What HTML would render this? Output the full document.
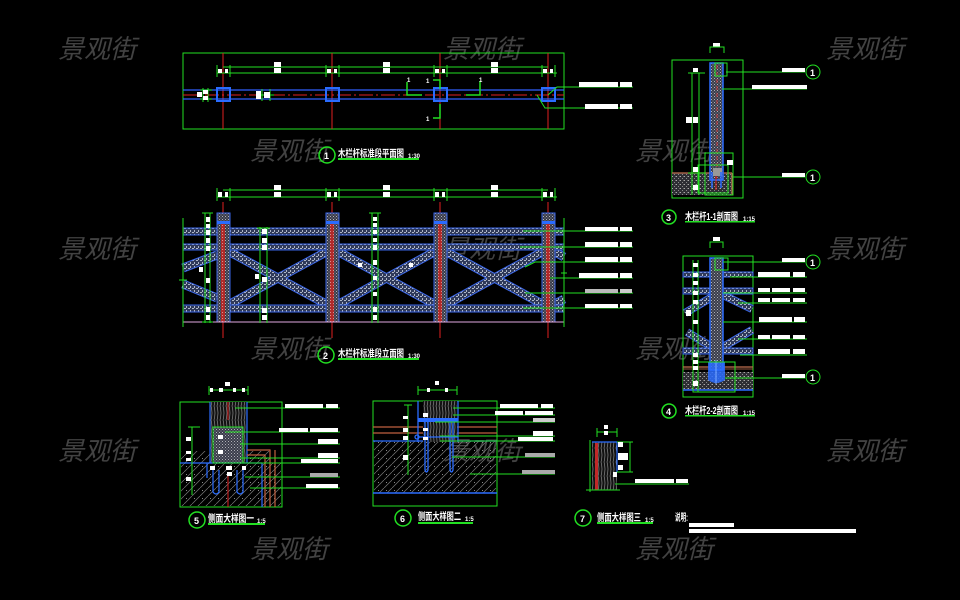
<!DOCTYPE html>
<html><head><meta charset="utf-8">
<style>
html,body{margin:0;padding:0;background:#000;overflow:hidden}
svg{display:block}
.wm{font-family:"Liberation Sans","Noto Sans CJK SC",sans-serif;font-size:26px;font-style:italic;fill:#424242}
.t{font-family:"Liberation Sans","Noto Sans CJK SC",sans-serif;font-size:10px;font-weight:bold;fill:#fff}
.s{font-family:"Liberation Sans",sans-serif;font-size:6px;font-weight:bold;fill:#fff}
.n{font-family:"Liberation Sans",sans-serif;font-size:9px;font-weight:bold;fill:#fff}
</style></head><body>
<svg width="960" height="600" viewBox="0 0 960 600" xmlns="http://www.w3.org/2000/svg">
<defs>
<pattern id="rail" width="4" height="4" patternUnits="userSpaceOnUse"><rect width="4" height="4" fill="#303a5a"/><rect width="2" height="1" fill="#aeb6c8"/><rect x="2" y="2" width="1" height="2" fill="#aeb6c8"/></pattern>
<pattern id="post" width="3" height="3" patternUnits="userSpaceOnUse"><rect width="3" height="3" fill="#3a3d4a"/><rect width="1" height="1" fill="#b0b0b8"/><rect x="1.5" y="1.5" width="1" height="1" fill="#9090a0"/></pattern>
<pattern id="redp" width="3" height="3" patternUnits="userSpaceOnUse"><rect width="3" height="3" fill="#b02a2a"/><rect width="1" height="1" fill="#d89090"/></pattern>
<pattern id="conc" width="4" height="4" patternUnits="userSpaceOnUse"><rect width="4" height="4" fill="#2e2e34"/><rect width="1" height="1" fill="#aaa"/><rect x="2" y="2" width="1" height="1" fill="#888"/><rect x="3" y="0" width="1" height="1" fill="#666"/></pattern>
<pattern id="hatch" width="8" height="8" patternUnits="userSpaceOnUse"><path d="M0 8 L8 0" stroke="#777" stroke-width="0.7"/><rect x="2" y="2" width="1" height="1" fill="#888"/></pattern>
<pattern id="wood" width="6" height="14" patternUnits="userSpaceOnUse"><rect width="6" height="14" fill="#121212"/><path d="M1 0 Q3 7 1 14 M4 0 Q6 7 4 14" stroke="#9a9a9a" stroke-width="0.6" fill="none"/></pattern>
</defs>
<rect width="960" height="600" fill="#000"/>

<!-- watermarks -->
<g class="wm">
<text x="58" y="58">景观街</text><text x="443" y="58">景观街</text><text x="826" y="58">景观街</text>
<text x="250" y="160">景观街</text><text x="635" y="160">景观街</text>
<text x="58" y="258">景观街</text><text x="443" y="258">景观街</text><text x="826" y="258">景观街</text>
<text x="250" y="358">景观街</text><text x="635" y="358">景观街</text>
<text x="58" y="460">景观街</text><text x="443" y="460">景观街</text><text x="826" y="460">景观街</text>
<text x="250" y="558">景观街</text><text x="635" y="558">景观街</text>
</g>

<!-- ============ DRAWING 1 : PLAN ============ -->
<g>
<rect x="183" y="53" width="381" height="76" fill="none" stroke="#22e022" stroke-width="1"/>
<g stroke="#e02020" stroke-width="1">
<line x1="223" y1="53" x2="223" y2="129"/><line x1="332" y1="53" x2="332" y2="129"/>
<line x1="440" y1="53" x2="440" y2="129"/><line x1="548" y1="53" x2="548" y2="129"/>
</g>
<g stroke="#22e022" stroke-width="1">
<line x1="217" y1="73" x2="557" y2="73"/><line x1="223" y1="67" x2="548" y2="67"/>
<line x1="217" y1="65" x2="217" y2="77"/><line x1="230" y1="65" x2="230" y2="77"/>
<line x1="326" y1="65" x2="326" y2="77"/><line x1="339" y1="65" x2="339" y2="77"/>
<line x1="434" y1="65" x2="434" y2="77"/><line x1="447" y1="65" x2="447" y2="77"/>
<line x1="542" y1="65" x2="542" y2="77"/><line x1="555" y1="65" x2="555" y2="77"/>
</g>
<g fill="#fff">
<rect x="274" y="62" width="7" height="5"/><rect x="274" y="68" width="7" height="5"/>
<rect x="383" y="62" width="7" height="5"/><rect x="383" y="68" width="7" height="5"/>
<rect x="491" y="62" width="7" height="5"/><rect x="491" y="68" width="7" height="5"/>
<rect x="218" y="69" width="4" height="4"/><rect x="225" y="69" width="3" height="4"/>
<rect x="327" y="69" width="4" height="4"/><rect x="334" y="69" width="3" height="4"/>
<rect x="435" y="69" width="4" height="4"/><rect x="442" y="69" width="3" height="4"/>
<rect x="543" y="69" width="4" height="4"/><rect x="550" y="69" width="3" height="4"/>
</g>
<line x1="183" y1="90" x2="564" y2="90" stroke="#3060ff" stroke-width="1.2"/>
<line x1="183" y1="99" x2="564" y2="99" stroke="#3060ff" stroke-width="1.2"/>
<line x1="183" y1="95" x2="564" y2="95" stroke="#e02020" stroke-width="1" stroke-dasharray="14 3 2 3"/>
<g fill="none" stroke="#2a6cff" stroke-width="2">
<rect x="217" y="88" width="13" height="13"/><rect x="326" y="88" width="13" height="13"/>
<rect x="434" y="88" width="13" height="13"/><rect x="542" y="88" width="13" height="13"/>
</g>
<g stroke="#22e022" stroke-width="1" fill="none">
<line x1="203" y1="88" x2="203" y2="102"/><line x1="208" y1="88" x2="208" y2="102"/>
<line x1="200" y1="90" x2="212" y2="90"/><line x1="200" y1="99" x2="212" y2="99"/>
<line x1="262" y1="89" x2="262" y2="101"/><line x1="270" y1="89" x2="270" y2="101"/>
<line x1="258" y1="95" x2="274" y2="95"/>
</g>
<g fill="#fff">
<rect x="197" y="92" width="5" height="5"/><rect x="203" y="90" width="5" height="4"/><rect x="203" y="96" width="5" height="4"/>
<rect x="256" y="91" width="5" height="8"/><rect x="264" y="92" width="6" height="6"/>
</g>
<g stroke="#22e022" stroke-width="1.5" fill="none">
<polyline points="407,82 407,95 422,95"/>
<polyline points="466,95 480,95 480,81"/>
<polyline points="433,80 440,80 440,89"/>
<polyline points="440,104 440,118 433,118"/>
</g>
<g class="s"><text x="407" y="82">1</text><text x="479" y="82">1</text><text x="426" y="83">1</text><text x="426" y="121">1</text></g>
<g stroke="#22e022" stroke-width="1" fill="none">
<polyline points="548,95 557,87 633,87"/>
<polyline points="537,95 545,108 633,108"/>
</g>
<g fill="#fff">
<rect x="579" y="82" width="39" height="5"/><rect x="620" y="82" width="12" height="5"/>
<rect x="585" y="104" width="33" height="5"/><rect x="620" y="104" width="12" height="5"/>
</g>
<circle cx="327" cy="155" r="8" fill="none" stroke="#22e022" stroke-width="1.5"/>
<text class="n" x="324" y="159">1</text>
<text class="t" x="338" y="157" textLength="66" lengthAdjust="spacingAndGlyphs">木栏杆标准段平面图</text>
<text class="s" x="408" y="158">1:30</text>
<rect x="338" y="158" width="81" height="2" fill="#22e022"/>
</g>

<!-- ============ DRAWING 2 : ELEVATION ============ -->
<g>
<g stroke="#22e022" stroke-width="1">
<line x1="217" y1="197" x2="557" y2="197"/><line x1="223" y1="190" x2="548" y2="190"/>
<line x1="217" y1="188" x2="217" y2="201"/><line x1="230" y1="188" x2="230" y2="201"/>
<line x1="326" y1="188" x2="326" y2="201"/><line x1="339" y1="188" x2="339" y2="201"/>
<line x1="434" y1="188" x2="434" y2="201"/><line x1="447" y1="188" x2="447" y2="201"/>
<line x1="542" y1="188" x2="542" y2="201"/><line x1="555" y1="188" x2="555" y2="201"/>
</g>
<g fill="#fff">
<rect x="274" y="185" width="7" height="5"/><rect x="274" y="192" width="7" height="5"/>
<rect x="383" y="185" width="7" height="5"/><rect x="383" y="192" width="7" height="5"/>
<rect x="491" y="185" width="7" height="5"/><rect x="491" y="192" width="7" height="5"/>
<rect x="218" y="192" width="4" height="5"/><rect x="225" y="192" width="3" height="5"/>
<rect x="327" y="192" width="4" height="5"/><rect x="334" y="192" width="3" height="5"/>
<rect x="435" y="192" width="4" height="5"/><rect x="442" y="192" width="3" height="5"/>
<rect x="543" y="192" width="4" height="5"/><rect x="550" y="192" width="3" height="5"/>
</g>
<g stroke="#e02020" stroke-width="1">
<line x1="223" y1="202" x2="223" y2="338"/><line x1="332" y1="202" x2="332" y2="338"/>
<line x1="440" y1="202" x2="440" y2="338"/><line x1="548" y1="202" x2="548" y2="338"/>
</g>
<g stroke="#3a66e8" stroke-width="9" fill="none" stroke-linecap="butt">
<line x1="230" y1="252" x2="326" y2="304"/><line x1="230" y1="304" x2="326" y2="252"/>
<line x1="339" y1="252" x2="434" y2="304"/><line x1="339" y1="304" x2="434" y2="252"/>
<line x1="447" y1="252" x2="542" y2="304"/><line x1="447" y1="304" x2="542" y2="252"/>
<line x1="183" y1="268" x2="217" y2="255"/><line x1="183" y1="284" x2="217" y2="298"/>
<line x1="555" y1="252" x2="564" y2="257"/><line x1="555" y1="304" x2="564" y2="299"/>
</g>
<g stroke="url(#rail)" stroke-width="7" fill="none">
<line x1="230" y1="252" x2="326" y2="304"/><line x1="230" y1="304" x2="326" y2="252"/>
<line x1="339" y1="252" x2="434" y2="304"/><line x1="339" y1="304" x2="434" y2="252"/>
<line x1="447" y1="252" x2="542" y2="304"/><line x1="447" y1="304" x2="542" y2="252"/>
<line x1="183" y1="268" x2="217" y2="255"/><line x1="183" y1="284" x2="217" y2="298"/>
<line x1="555" y1="252" x2="564" y2="257"/><line x1="555" y1="304" x2="564" y2="299"/>
</g>
<g fill="url(#rail)" stroke="#3a66e8" stroke-width="1">
<rect x="183" y="228" width="381" height="7"/>
<rect x="183" y="244" width="381" height="6"/>
<rect x="183" y="305" width="381" height="7"/>
</g>
<g>
<rect x="217" y="213" width="13" height="109" fill="url(#post)" stroke="#3a66e8" stroke-width="1"/>
<rect x="326" y="213" width="13" height="109" fill="url(#post)" stroke="#3a66e8" stroke-width="1"/>
<rect x="434" y="213" width="13" height="109" fill="url(#post)" stroke="#3a66e8" stroke-width="1"/>
<rect x="542" y="213" width="13" height="109" fill="url(#post)" stroke="#3a66e8" stroke-width="1"/>
</g>
<g fill="url(#redp)">
<rect x="221" y="222" width="4" height="100"/><rect x="330" y="222" width="4" height="100"/>
<rect x="438" y="222" width="4" height="100"/><rect x="546" y="222" width="4" height="100"/>
</g>
<g fill="#2a6cff">
<rect x="217" y="221" width="13" height="3"/><rect x="326" y="221" width="13" height="3"/>
<rect x="434" y="221" width="13" height="3"/><rect x="542" y="221" width="13" height="3"/>
</g>
<line x1="183" y1="322" x2="564" y2="322" stroke="#e0a8e0" stroke-width="1"/>
<g stroke="#22e022" stroke-width="1" fill="none">
<line x1="183" y1="218" x2="183" y2="327"/><line x1="179" y1="280" x2="187" y2="280"/>
<line x1="205" y1="213" x2="205" y2="323"/><line x1="210" y1="213" x2="210" y2="323"/>
<line x1="260" y1="227" x2="260" y2="323"/><line x1="267" y1="227" x2="267" y2="323"/>
<line x1="372" y1="213" x2="372" y2="323"/><line x1="378" y1="213" x2="378" y2="323"/>
<line x1="564" y1="218" x2="564" y2="327"/><line x1="561" y1="273" x2="567" y2="273"/>
<line x1="202" y1="213" x2="213" y2="213"/><line x1="202" y1="322" x2="213" y2="322"/>
<line x1="257" y1="228" x2="270" y2="228"/><line x1="369" y1="213" x2="381" y2="213"/>
</g>
<g fill="#fff">
<rect x="206" y="217" width="4" height="5"/><rect x="206" y="224" width="4" height="4"/><rect x="206" y="230" width="4" height="5"/>
<rect x="206" y="238" width="4" height="5"/><rect x="206" y="246" width="4" height="5"/><rect x="206" y="278" width="4" height="5"/>
<rect x="206" y="307" width="4" height="5"/><rect x="206" y="315" width="4" height="5"/><rect x="199" y="267" width="4" height="5"/>
<rect x="262" y="229" width="5" height="5"/><rect x="262" y="238" width="5" height="5"/><rect x="262" y="245" width="5" height="5"/>
<rect x="262" y="277" width="5" height="5"/><rect x="262" y="308" width="5" height="5"/><rect x="262" y="315" width="5" height="5"/>
<rect x="255" y="274" width="4" height="5"/>
<rect x="373" y="217" width="4" height="4"/><rect x="373" y="223" width="4" height="4"/><rect x="373" y="230" width="4" height="4"/>
<rect x="373" y="238" width="4" height="4"/><rect x="373" y="245" width="4" height="5"/><rect x="373" y="260" width="4" height="5"/>
<rect x="373" y="276" width="4" height="4"/><rect x="373" y="292" width="4" height="4"/><rect x="373" y="307" width="4" height="5"/>
<rect x="373" y="315" width="4" height="5"/>
<rect x="358" y="263" width="4" height="4"/><rect x="409" y="263" width="4" height="4"/>
</g>
<g stroke="#22e022" stroke-width="1" fill="none">
<line x1="523" y1="231" x2="633" y2="231"/>
<line x1="520" y1="247" x2="633" y2="247"/>
<polyline points="525,267 535,262 633,262"/>
<polyline points="550,278 633,278"/>
<polyline points="525,293 633,293"/>
<line x1="523" y1="308" x2="633" y2="308"/>
</g>
<g fill="#fff">
<rect x="585" y="227" width="33" height="4"/><rect x="620" y="227" width="12" height="4"/>
<rect x="585" y="242" width="33" height="5"/><rect x="620" y="242" width="12" height="5"/>
<rect x="585" y="257" width="33" height="5"/><rect x="620" y="257" width="12" height="5"/>
<rect x="579" y="273" width="39" height="5"/><rect x="620" y="273" width="12" height="5"/>
<rect x="585" y="304" width="33" height="4"/><rect x="620" y="304" width="12" height="4"/>
</g>
<rect x="585" y="289" width="33" height="4" fill="#bbb"/><rect x="620" y="289" width="12" height="4" fill="#ccc"/>
<circle cx="326" cy="355" r="8" fill="none" stroke="#22e022" stroke-width="1.5"/>
<text class="n" x="323" y="359">2</text>
<text class="t" x="338" y="357" textLength="66" lengthAdjust="spacingAndGlyphs">木栏杆标准段立面图</text>
<text class="s" x="408" y="358">1:30</text>
<rect x="338" y="358" width="81" height="2" fill="#22e022"/>
</g>

<!-- ============ DRAWING 3 : 1-1 SECTION ============ -->
<g>
<rect x="672" y="60" width="71" height="138" fill="none" stroke="#22e022" stroke-width="1"/>
<rect x="713" y="43" width="7" height="4" fill="#fff"/>
<polyline points="710,53 710,47 724,47 724,53" fill="none" stroke="#22e022"/>
<rect x="672" y="173" width="60" height="22" fill="url(#conc)"/>
<line x1="672" y1="173" x2="732" y2="173" stroke="#c07050" stroke-width="1.2"/>
<line x1="732" y1="173" x2="732" y2="195" stroke="#c07050" stroke-width="1.2"/>
<rect x="710" y="63" width="13" height="117" fill="url(#post)" stroke="#2a6cff" stroke-width="1.5"/>
<line x1="717" y1="65" x2="717" y2="178" stroke="#c03030" stroke-width="1" stroke-dasharray="4 3"/>
<rect x="713" y="168" width="9" height="8" fill="#999"/>
<g stroke="#2a6cff" stroke-width="1.5" fill="none">
<path d="M712 172 L712 188 M721 172 L721 188"/>
</g>
<line x1="716" y1="176" x2="716" y2="190" stroke="#e02020"/>
<g stroke="#22e022" stroke-width="1" fill="none">
<rect x="715" y="63" width="12" height="13"/>
<rect x="705" y="153" width="28" height="42"/>
<rect x="698" y="165" width="30" height="28"/>
<line x1="692" y1="73" x2="692" y2="195"/><line x1="699" y1="73" x2="699" y2="195"/>
<line x1="688" y1="73" x2="705" y2="73"/><line x1="688" y1="173" x2="705" y2="173"/>
<polyline points="726,72 805,72"/>
<polyline points="722,89 807,89"/>
<polyline points="733,177 805,177"/>
<circle cx="813" cy="72" r="7"/><circle cx="813" cy="177" r="7"/>
</g>
<g fill="#fff">
<rect x="686" y="117" width="6" height="6"/><rect x="693" y="117" width="5" height="6"/>
<rect x="693" y="68" width="5" height="4"/><rect x="693" y="167" width="5" height="5"/><rect x="693" y="185" width="5" height="5"/>
<rect x="727" y="160" width="6" height="5"/>
<rect x="782" y="68" width="23" height="4"/><rect x="752" y="85" width="55" height="4"/><rect x="782" y="173" width="23" height="4"/>
</g>
<text class="n" x="810" y="76">1</text><text class="n" x="810" y="181">1</text>
<circle cx="669" cy="217" r="7" fill="none" stroke="#22e022" stroke-width="1.5"/>
<text class="n" x="666" y="221">3</text>
<text class="t" x="685" y="220" textLength="53" lengthAdjust="spacingAndGlyphs">木栏杆1-1剖面图</text>
<text class="s" x="743" y="221">1:15</text>
<rect x="685" y="221" width="70" height="1.5" fill="#22e022"/>
</g>

<!-- ============ DRAWING 4 : 2-2 SECTION ============ -->
<g>
<rect x="683" y="256" width="70" height="141" fill="none" stroke="#22e022" stroke-width="1"/>
<rect x="713" y="237" width="7" height="4" fill="#fff"/>
<polyline points="710,248 710,242 723,242 723,248" fill="none" stroke="#22e022"/>
<rect x="683" y="372" width="70" height="18" fill="url(#conc)"/>
<line x1="683" y1="367" x2="753" y2="367" stroke="#c07050" stroke-width="1.2"/>
<line x1="683" y1="369" x2="753" y2="369" stroke="#c07050" stroke-width="0.8"/>
<line x1="683" y1="390" x2="753" y2="390" stroke="#2a6cff" stroke-width="1.5"/>
<g stroke="#3a66e8" stroke-width="8" fill="none">
<line x1="685" y1="313" x2="712" y2="297"/><line x1="723" y1="295" x2="752" y2="309"/>
<line x1="687" y1="332" x2="712" y2="347"/><line x1="723" y1="347" x2="752" y2="330"/>
</g>
<g stroke="url(#rail)" stroke-width="6" fill="none">
<line x1="685" y1="313" x2="712" y2="297"/><line x1="723" y1="295" x2="752" y2="309"/>
<line x1="687" y1="332" x2="712" y2="347"/><line x1="723" y1="347" x2="752" y2="330"/>
</g>
<g fill="url(#rail)" stroke="#3a66e8" stroke-width="1">
<rect x="683" y="272" width="70" height="5"/>
<rect x="683" y="288" width="70" height="6"/>
<rect x="683" y="348" width="70" height="6"/>
</g>
<rect x="710" y="258" width="13" height="112" fill="url(#post)" stroke="#2a6cff" stroke-width="1.5"/>
<path d="M708 362 L708 380 Q716 386 725 380 L725 362" fill="#2a6cff" opacity="0.85"/>
<line x1="716" y1="360" x2="716" y2="384" stroke="#7aaaff" stroke-width="1"/>
<g stroke="#22e022" stroke-width="1" fill="none">
<rect x="715" y="258" width="13" height="12"/>
<rect x="693" y="362" width="42" height="30"/>
<line x1="693" y1="260" x2="693" y2="392"/><line x1="698" y1="260" x2="698" y2="392"/>
<line x1="723" y1="262" x2="805" y2="262"/>
<line x1="730" y1="277" x2="807" y2="277"/>
<line x1="723" y1="293" x2="807" y2="293"/>
<line x1="738" y1="303" x2="807" y2="303"/>
<line x1="723" y1="322" x2="807" y2="322"/>
<line x1="738" y1="339" x2="807" y2="339"/>
<line x1="740" y1="355" x2="807" y2="355"/>
<line x1="725" y1="378" x2="805" y2="378"/>
<circle cx="813" cy="262" r="7"/><circle cx="813" cy="377" r="7"/>
</g>
<g fill="#fff">
<rect x="693" y="263" width="5" height="4"/><rect x="693" y="273" width="5" height="4"/><rect x="693" y="281" width="5" height="4"/>
<rect x="693" y="291" width="5" height="4"/><rect x="693" y="300" width="5" height="4"/><rect x="693" y="320" width="5" height="4"/>
<rect x="693" y="353" width="5" height="4"/><rect x="693" y="360" width="5" height="4"/><rect x="693" y="366" width="5" height="4"/>
<rect x="693" y="381" width="5" height="5"/><rect x="686" y="310" width="5" height="6"/>
<rect x="782" y="258" width="23" height="4"/>
<rect x="758" y="272" width="32" height="5"/><rect x="793" y="272" width="12" height="5"/>
<rect x="758" y="288" width="12" height="4"/><rect x="772" y="288" width="18" height="4"/><rect x="793" y="288" width="12" height="4"/>
<rect x="758" y="298" width="12" height="4"/><rect x="772" y="298" width="18" height="4"/><rect x="793" y="298" width="12" height="4"/>
<rect x="759" y="317" width="33" height="5"/><rect x="794" y="317" width="11" height="5"/>
<rect x="758" y="335" width="12" height="4"/><rect x="772" y="335" width="18" height="4"/><rect x="793" y="335" width="12" height="4"/>
<rect x="758" y="349" width="32" height="5"/><rect x="793" y="349" width="12" height="5"/>
<rect x="782" y="374" width="23" height="4"/>
</g>
<text class="n" x="810" y="266">1</text><text class="n" x="810" y="381">1</text>
<circle cx="669" cy="411" r="7" fill="none" stroke="#22e022" stroke-width="1.5"/>
<text class="n" x="666" y="415">4</text>
<text class="t" x="685" y="414" textLength="53" lengthAdjust="spacingAndGlyphs">木栏杆2-2剖面图</text>
<text class="s" x="743" y="415">1:15</text>
<rect x="685" y="415" width="70" height="1.5" fill="#22e022"/>
</g>

<!-- ============ DRAWING 5 ============ -->
<g>
<rect x="180" y="402" width="102" height="105" fill="none" stroke="#22e022" stroke-width="1"/>
<rect x="181" y="463" width="100" height="43" fill="url(#hatch)"/>
<rect x="181" y="451" width="29" height="12" fill="url(#hatch)"/>
<rect x="247" y="451" width="23" height="12" fill="url(#hatch)"/>
<rect x="210" y="402" width="37" height="61" fill="url(#wood)"/>
<rect x="213" y="427" width="30" height="36" fill="url(#post)"/>
<line x1="228" y1="402" x2="228" y2="420" stroke="#e02020"/>
<line x1="228" y1="475" x2="228" y2="507" stroke="#e02020"/>
<g stroke="#2a6cff" stroke-width="1.2" fill="none">
<line x1="210" y1="402" x2="210" y2="463"/><line x1="247" y1="402" x2="247" y2="463"/>
<line x1="180" y1="463" x2="262" y2="463"/><line x1="262" y1="463" x2="262" y2="507"/>
<line x1="207" y1="463" x2="207" y2="478"/>
<path d="M213 470 L213 492 Q216 496 219 492 L219 470"/>
<path d="M237 470 L237 492 Q240 496 243 492 L243 470"/>
</g>
<g stroke="#c06040" stroke-width="1.2" fill="none">
<polyline points="247,450 270,450 270,507"/>
<line x1="275" y1="450" x2="275" y2="507"/>
<line x1="247" y1="455" x2="265" y2="455"/>
<line x1="265" y1="455" x2="265" y2="507"/>
</g>
<g stroke="#22e022" stroke-width="1" fill="none">
<line x1="209" y1="390" x2="248" y2="390"/>
<line x1="209" y1="386" x2="209" y2="395"/><line x1="248" y1="386" x2="248" y2="395"/>
<line x1="192" y1="427" x2="192" y2="495"/><line x1="188" y1="427" x2="200" y2="427"/>
<line x1="235" y1="408" x2="340" y2="408"/>
<line x1="225" y1="432" x2="340" y2="432"/>
<line x1="240" y1="444" x2="340" y2="444"/>
<line x1="240" y1="458" x2="340" y2="458"/>
<line x1="240" y1="463" x2="340" y2="463"/>
<line x1="245" y1="477" x2="340" y2="477"/>
<line x1="250" y1="488" x2="340" y2="488"/>
<rect x="213" y="427" width="30" height="36"/>
</g>
<g fill="#fff">
<rect x="225" y="382" width="5" height="4"/><rect x="210" y="388" width="3" height="4"/><rect x="219" y="388" width="4" height="4"/>
<rect x="233" y="388" width="3" height="4"/><rect x="242" y="388" width="3" height="4"/>
<rect x="186" y="437" width="5" height="4"/><rect x="186" y="451" width="5" height="3"/><rect x="186" y="458" width="5" height="3"/><rect x="186" y="477" width="5" height="4"/>
<rect x="218" y="435" width="5" height="4"/><rect x="218" y="450" width="5" height="4"/>
<rect x="210" y="466" width="5" height="4"/><rect x="226" y="466" width="6" height="4"/><rect x="242" y="466" width="4" height="4"/>
<rect x="227" y="472" width="5" height="4"/>
<rect x="285" y="404" width="38" height="4"/><rect x="326" y="404" width="12" height="4"/>
<rect x="279" y="428" width="29" height="4"/><rect x="310" y="428" width="28" height="4"/>
<rect x="318" y="439" width="20" height="5"/>
<rect x="318" y="453" width="20" height="5"/>
<rect x="301" y="459" width="37" height="4"/>
<rect x="306" y="484" width="32" height="4"/>
</g>
<rect x="310" y="473" width="28" height="4" fill="#aaa"/>
<circle cx="197" cy="520" r="8" fill="none" stroke="#22e022" stroke-width="1.5"/>
<text class="n" x="194" y="524">5</text>
<text class="t" x="208" y="522" textLength="46" lengthAdjust="spacingAndGlyphs">侧面大样图一</text>
<text class="s" x="257" y="523">1:5</text>
<rect x="208" y="523" width="57" height="2" fill="#22e022"/>
</g>

<!-- ============ DRAWING 6 ============ -->
<g>
<rect x="373" y="401" width="124" height="105" fill="none" stroke="#22e022" stroke-width="1"/>
<rect x="374" y="441" width="122" height="52" fill="url(#hatch)"/>
<line x1="373" y1="427" x2="497" y2="427" stroke="#c06040" stroke-width="1.2"/>
<line x1="373" y1="433" x2="497" y2="433" stroke="#c06040" stroke-width="1.2"/>
<line x1="373" y1="441" x2="497" y2="441" stroke="#2a6cff" stroke-width="1.2"/>
<line x1="373" y1="493" x2="497" y2="493" stroke="#2a6cff" stroke-width="1.5"/>
<rect x="423" y="401" width="34" height="41" fill="url(#wood)"/>
<g stroke="#2a6cff" stroke-width="1.3" fill="none">
<line x1="418" y1="401" x2="418" y2="442"/><line x1="458" y1="401" x2="458" y2="442"/>
<path d="M425 420 L425 470 Q426.5 474 428 470 L428 420"/>
<path d="M450 420 L450 470 Q451.5 474 453 470 L453 420"/>
<circle cx="417" cy="437" r="2"/>
<line x1="418" y1="437" x2="458" y2="437"/>
</g>
<rect x="418" y="418" width="40" height="4" fill="#2a6cff"/>
<g stroke="#22e022" stroke-width="1" fill="none">
<line x1="418" y1="390" x2="457" y2="390"/>
<line x1="418" y1="386" x2="418" y2="395"/><line x1="457" y1="386" x2="457" y2="395"/>
<line x1="408" y1="405" x2="408" y2="475"/><line x1="404" y1="405" x2="412" y2="405"/>
<line x1="453" y1="408" x2="555" y2="408"/>
<line x1="453" y1="415" x2="555" y2="415"/>
<line x1="435" y1="422" x2="555" y2="422"/>
<line x1="440" y1="436" x2="555" y2="436"/>
<line x1="440" y1="441" x2="555" y2="441"/>
<line x1="452" y1="457" x2="555" y2="457"/>
<line x1="470" y1="474" x2="555" y2="474"/>
</g>
<g fill="#fff">
<rect x="435" y="381" width="4" height="4"/><rect x="427" y="388" width="3" height="4"/><rect x="445" y="388" width="3" height="4"/>
<rect x="403" y="416" width="5" height="3"/><rect x="403" y="428" width="5" height="4"/><rect x="403" y="436" width="5" height="4"/><rect x="403" y="455" width="5" height="5"/>
<rect x="423" y="413" width="5" height="4"/><rect x="423" y="428" width="5" height="3"/><rect x="423" y="437" width="5" height="3"/>
<rect x="500" y="404" width="38" height="4"/><rect x="541" y="404" width="12" height="4"/>
<rect x="495" y="411" width="28" height="4"/><rect x="525" y="411" width="28" height="4"/>
<rect x="533" y="431" width="20" height="5"/>
<rect x="518" y="437" width="35" height="4"/>
</g>
<rect x="533" y="418" width="22" height="4" fill="#ccc"/>
<rect x="525" y="453" width="30" height="4" fill="#aaa"/>
<rect x="522" y="470" width="33" height="4" fill="#aaa"/>
<circle cx="403" cy="518" r="8" fill="none" stroke="#22e022" stroke-width="1.5"/>
<text class="n" x="400" y="522">6</text>
<text class="t" x="418" y="520" textLength="43" lengthAdjust="spacingAndGlyphs">侧面大样图二</text>
<text class="s" x="465" y="521">1:5</text>
<rect x="418" y="522" width="55" height="2" fill="#22e022"/>
</g>

<!-- ============ DRAWING 7 ============ -->
<g>
<rect x="592" y="442" width="25" height="48" fill="url(#wood)"/>
<rect x="595" y="443" width="3" height="47" fill="#c02828"/>
<g stroke="#2a6cff" stroke-width="1.2" fill="none">
<line x1="617" y1="442" x2="617" y2="472"/><line x1="592" y1="442" x2="617" y2="442"/>
</g>
<g stroke="#22e022" stroke-width="1" fill="none">
<line x1="590" y1="440" x2="590" y2="492"/><line x1="586" y1="490" x2="620" y2="490"/>
<line x1="597" y1="432" x2="617" y2="432"/>
<line x1="597" y1="428" x2="597" y2="437"/><line x1="617" y1="428" x2="617" y2="437"/>
<line x1="630" y1="442" x2="630" y2="472"/><line x1="617" y1="442" x2="633" y2="442"/><line x1="617" y1="472" x2="633" y2="472"/>
<line x1="615" y1="484" x2="689" y2="484"/>
</g>
<g fill="#fff">
<rect x="604" y="425" width="4" height="4"/><rect x="604" y="431" width="4" height="4"/>
<rect x="618" y="442" width="5" height="5"/><rect x="618" y="453" width="10" height="7"/><rect x="618" y="465" width="5" height="5"/>
<rect x="613" y="472" width="4" height="5"/>
<rect x="635" y="479" width="39" height="4"/><rect x="676" y="479" width="12" height="4"/>
</g>
<circle cx="583" cy="518" r="8" fill="none" stroke="#22e022" stroke-width="1.5"/>
<text class="n" x="580" y="522">7</text>
<text class="t" x="597" y="521" textLength="44" lengthAdjust="spacingAndGlyphs">侧面大样图三</text>
<text class="s" x="645" y="522">1:5</text>
<rect x="597" y="522" width="56" height="2" fill="#22e022"/>
<text class="t" x="675" y="521" textLength="13" lengthAdjust="spacingAndGlyphs">说明:</text>
<rect x="689" y="523" width="45" height="4" fill="#fff"/>
<rect x="689" y="529" width="167" height="4" fill="#fff"/>
</g>
</svg>
</body></html>
